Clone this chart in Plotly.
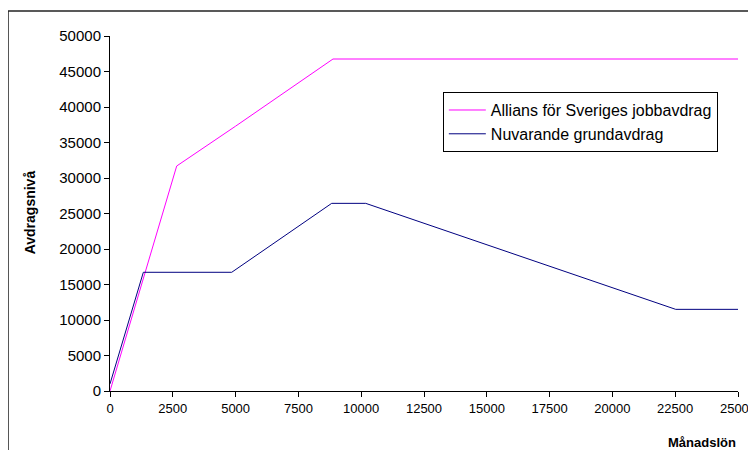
import plotly.graph_objects as go

# Data
allians_x = [0, 1850, 2655, 5000, 8877, 25000]
allians_y = [0, 21970, 31690, 37300, 46760, 46760]
nuv_x = [0, 1327, 4845, 8825, 10180, 22520, 25000]
nuv_y = [1000, 16720, 16720, 26430, 26430, 11500, 11500]

x_ticks = [0, 2500, 5000, 7500, 10000, 12500, 15000, 17500, 20000, 22500, 25000]
y_ticks = [0, 5000, 10000, 15000, 20000, 25000, 30000, 35000, 40000, 45000, 50000]

FONT = "Liberation Sans, Arial, sans-serif"

fig = go.Figure()
fig.add_trace(go.Scatter(x=allians_x, y=allians_y, mode="lines",
                         name="Allians för Sveriges jobbavdrag",
                         line=dict(color="#ff00ff", width=1)))
fig.add_trace(go.Scatter(x=nuv_x, y=nuv_y, mode="lines",
                         name="Nuvarande grundavdrag",
                         line=dict(color="#000080", width=1)))

# page body has an 8px margin, so the figure is drawn 8px in from the window edge
fig.update_layout(
    width=748, height=442,
    margin=dict(l=102, r=18, t=28, b=59, autoexpand=False),
    paper_bgcolor="white", plot_bgcolor="white",
    font=dict(family=FONT, size=13, color="black"),
    showlegend=True,
    legend=dict(x=0.530, y=0.842, xanchor="left", yanchor="top",
                bordercolor="black", borderwidth=1, bgcolor="white",
                font=dict(family=FONT, size=16), itemwidth=37),
    xaxis=dict(range=[0, 25000], tickvals=x_ticks, ticktext=[str(v) for v in x_ticks],
               showgrid=False, zeroline=False, showline=True, linecolor="black",
               linewidth=1, ticks="outside", ticklen=5, tickcolor="black",
               tickfont=dict(size=13), ticklabeloverflow="allow", automargin=False),
    yaxis=dict(range=[0, 50000], tickvals=y_ticks, ticktext=[str(v) for v in y_ticks],
               showgrid=False, zeroline=False, showline=True, linecolor="black",
               linewidth=1, ticks="outside", ticklen=5, tickcolor="black",
               tickfont=dict(size=15), automargin=False),
    annotations=[
        dict(text="<b>Månadslön</b>", xref="paper", yref="paper",
             x=1.0, y=-0.118, xanchor="right", yanchor="top", showarrow=False,
             font=dict(family=FONT, size=13)),
        dict(text="<b>Avdragsnivå</b>", xref="paper", yref="paper",
             x=-0.127, y=0.504, xanchor="center", yanchor="middle", showarrow=False,
             textangle=-90, font=dict(family=FONT, size=14)),
    ],
    shapes=[
        dict(type="line", xref="paper", yref="paper", x0=-0.1624, x1=-0.1624,
             y0=1.0704, y1=-0.2, line=dict(color="#222222", width=1.5)),
        dict(type="line", xref="paper", yref="paper", x0=-0.1624, x1=1.03,
             y0=1.0704, y1=1.0704, line=dict(color="#222222", width=1.5)),
        dict(type="line", xref="paper", yref="paper", x0=1.027, x1=1.027,
             y0=1.0704, y1=-0.2, line=dict(color="#dddddd", width=1)),
    ],
)

fig.write_html("out.html")
